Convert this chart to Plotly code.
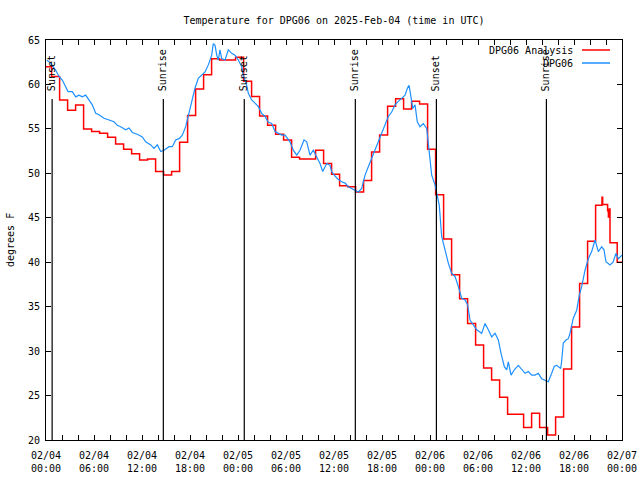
import pandas as pd
import plotly.graph_objects as go

# ---------------- data ----------------
T0 = pd.Timestamp("2025-02-04 00:00")
title_text = "Temperature for DPG06 on 2025-Feb-04 (time in UTC)"
y_title = "degrees F"

# Analysis (hourly, valid from hh:42), step plot
red_name = "DPG06 Analysis"
red_vals = [62.0, 60.9, 58.25, 57.1, 57.7, 55.0, 54.7, 54.5, 54.05, 53.3,
            52.7, 52.2, 51.5, 51.6, 50.2, 49.8, 50.2, 53.5, 56.5, 59.5,
            61.1, 62.9, 62.75, 62.75, 63.05, 60.35, 58.65, 56.45, 55.4, 54.4,
            53.75, 51.8, 51.6, 51.6, 52.6, 51.1, 49.9, 48.6, 48.5, 47.9,
            49.2, 52.4, 54.3, 57.55, 58.4, 57.25, 58.1, 57.8, 52.7, 47.6,
            42.6, 38.6, 35.9, 33.1, 30.7, 28.1, 26.75, 24.8, 22.9, 22.9,
            21.4, 23.0, 21.4, 20.55, 22.6, 28.0, 32.7, 37.6, 42.35, 46.4]
red_start = "2025-02-03 23:42"
red_tail_times = ["2025-02-06 21:30", "2025-02-06 21:35", "2025-02-06 22:12",
                  "2025-02-06 22:18", "2025-02-06 22:24", "2025-02-06 22:30",
                  "2025-02-06 23:24", "2025-02-07 00:24"]
red_tail_vals = [47.3, 46.5, 45.8, 45.1, 46.0, 42.2, 40.0, 40.0]

# Observations
blue_name = "DPG06"
blue_hours = [0.09, 0.59, 1.21, 1.63, 2.04, 2.46, 2.75, 3.29, 3.71, 4.13,
              4.54, 4.96, 5.38, 5.79, 6.21, 6.63, 7.25, 7.88, 8.5, 8.91,
              9.34, 9.96, 10.38, 10.79, 11.41, 12.04, 12.46, 13.09, 13.5, 13.91,
              14.34, 14.75, 15.38, 15.79, 16.21, 16.63, 17.04, 17.46, 17.88, 18.29,
              18.5, 18.63, 19.04, 19.46, 19.88, 20.29, 20.71, 20.91, 21.13, 21.34,
              21.54, 21.75, 21.96, 22.38, 22.79, 23.21, 23.63, 24.04, 24.46, 24.66,
              25.09, 25.29, 25.71, 26.13, 26.54, 26.96, 27.38, 27.79, 28.21, 28.63,
              29.04, 29.46, 29.88, 30.5, 30.91, 31.34, 31.75, 32.25, 32.59, 33.0,
              33.41, 33.84, 34.25, 34.59, 35.09, 35.5, 35.71, 36.13, 36.54, 36.96,
              37.38, 37.79, 38.21, 38.63, 39.04, 39.46, 39.88, 40.29, 40.71, 41.13,
              41.54, 41.96, 42.38, 42.79, 43.21, 43.63, 44.04, 44.46, 44.88, 45.16,
              45.38, 45.59, 45.84, 46.13, 46.41, 46.75, 47.16, 47.59, 47.79, 48.0,
              48.21, 48.63, 48.91, 49.16, 49.46, 49.88, 50.29, 50.71, 51.13, 51.54,
              51.96, 52.38, 52.71, 53.0, 53.41, 53.84, 54.46, 54.88, 55.29, 55.71,
              56.13, 56.54, 56.88, 57.29, 57.59, 57.79, 58.13, 58.54, 59.04, 59.46,
              59.88, 60.29, 60.71, 61.13, 61.54, 61.96, 62.38, 62.79, 63.21, 63.54,
              63.84, 64.34, 64.46, 64.66, 65.0, 65.29, 65.5, 65.91, 66.34, 66.66,
              66.96, 67.38, 67.79, 68.21, 68.63, 69.04, 69.46, 69.75, 70.0, 70.5,
              70.88, 71.25, 71.54, 71.84, 72.0]
blue_vals = [62.75, 62.4, 61.6, 60.9, 60.5, 59.75, 59.2, 59.2, 58.6, 58.8,
             58.6, 58.8, 58.25, 57.7, 56.75, 56.6, 56.2, 56.0, 55.8, 55.4,
             55.25, 54.9, 55.1, 54.6, 54.4, 54.1, 53.55, 53.2, 52.8, 53.2,
             52.45, 52.6, 53.0, 53.0, 53.75, 53.9, 54.3, 55.25, 56.75, 58.4,
             58.9, 59.6, 60.7, 61.05, 61.4, 62.2, 63.3, 64.6, 64.4, 63.3,
             62.75, 63.9, 62.9, 62.75, 63.9, 63.5, 63.3, 62.75, 62.0, 61.05,
             59.9, 59.0, 58.25, 57.9, 57.5, 56.75, 56.4, 55.75, 55.6, 54.7,
             54.5, 54.3, 54.3, 53.55, 52.6, 52.05, 52.6, 53.75, 53.55, 52.05,
             52.6, 51.9, 51.1, 50.2, 51.1, 50.9, 50.2, 49.7, 49.3, 49.05,
             48.9, 48.5, 48.3, 48.1, 47.9, 48.3, 49.8, 50.75, 51.7, 52.45,
             53.4, 54.5, 55.4, 56.4, 56.9, 57.7, 58.1, 58.4, 58.8, 59.55,
             59.9, 58.8, 57.3, 57.7, 55.8, 55.25, 55.6, 55.05, 53.55, 51.7,
             49.8, 48.7, 47.6, 46.4, 42.9, 41.4, 39.9, 38.75, 38.4, 37.25,
             35.95, 35.75, 35.2, 33.5, 32.9, 32.4, 32.0, 33.1, 32.4, 31.6,
             32.0, 31.25, 29.75, 28.25, 27.9, 28.8, 27.3, 27.9, 28.4, 27.9,
             27.5, 27.7, 27.3, 27.3, 27.5, 26.9, 26.75, 26.55, 27.5, 28.3,
             28.4, 28.05, 28.9, 30.9, 31.25, 31.4, 32.0, 33.7, 34.6, 36.3,
             37.25, 39.1, 40.4, 41.2, 42.5, 41.2, 41.75, 41.4, 40.05, 39.7,
             40.0, 41.0, 40.4, 40.6, 40.8]

# Sun events
sun_times = ["2025-02-04 00:46", "2025-02-04 14:40", "2025-02-05 00:47",
             "2025-02-05 14:40", "2025-02-06 00:48", "2025-02-06 14:33"]
sun_labels = ["Sunset", "Sunrise", "Sunset", "Sunrise", "Sunset", "Sunrise"]

# Axis ticks
x_tick_times = pd.date_range("2025-02-04 00:00", "2025-02-07 00:00", freq="6h")
x_tick_text = [f"{t:%m/%d}<br>{t:%H:%M}" for t in x_tick_times]
x_minor_times = pd.date_range("2025-02-04 00:00", "2025-02-07 00:00", freq="2h")
y_ticks = [20, 25, 30, 35, 40, 45, 50, 55, 60, 65]

# ---------------- figure ----------------
RED = "#ff0000"
BLUE = "#1e90ff"
FONT = "DejaVu Sans Mono, Liberation Mono, monospace"

red_x = list(pd.date_range(red_start, periods=len(red_vals), freq="h")) + \
    [pd.Timestamp(t) for t in red_tail_times]
red_y = red_vals + red_tail_vals
blue_x = [T0 + pd.to_timedelta(h, unit="h") for h in blue_hours]

fig = go.Figure()
fig.add_trace(go.Scatter(x=red_x, y=red_y, mode="lines", name=red_name,
                         line=dict(color=RED, width=1.5, shape="hv")))
fig.add_trace(go.Scatter(x=blue_x, y=blue_vals, mode="lines", name=blue_name,
                         line=dict(color=BLUE, width=1.2)))

L, R, Tm, B = 46, 18, 40, 40
W, H = 640, 480
pw, ph = W - L - R, H - Tm - B

def px_x(p):
    return (p - L) / pw

def px_y(p):
    return (H - B - p) / ph

shapes = []
annotations = []
for t, lab in zip(sun_times, sun_labels):
    shapes.append(dict(type="line", xref="x", yref="paper", x0=t, x1=t,
                       y0=0, y1=px_y(99), line=dict(color="black", width=1.2)))
    annotations.append(dict(x=t, xref="x", y=px_y(93), yref="paper",
                            text=lab, textangle=-90, showarrow=False,
                            xanchor="center", yanchor="bottom",
                            font=dict(family=FONT, size=10, color="black")))

# gnuplot-style key: text right-aligned, sample on the right
for name, color, py in [(red_name, RED, 50), (blue_name, BLUE, 63)]:
    annotations.append(dict(x=px_x(575), y=px_y(py), xref="paper", yref="paper",
                            text=name, showarrow=False, xanchor="right",
                            yanchor="middle",
                            font=dict(family=FONT, size=10, color="black")))
    shapes.append(dict(type="line", xref="paper", yref="paper",
                       x0=px_x(582), x1=px_x(610), y0=px_y(py), y1=px_y(py),
                       line=dict(color=color, width=1.5)))

annotations.append(dict(x=px_x(10), y=0.5, xref="paper", yref="paper",
                        text=y_title, textangle=-90, showarrow=False,
                        xanchor="center", yanchor="middle",
                        font=dict(family=FONT, size=10, color="black")))

fig.update_layout(
    width=W, height=H, autosize=False,
    margin=dict(l=L, r=R, t=Tm, b=B, pad=0, autoexpand=False),
    paper_bgcolor="white", plot_bgcolor="white",
    showlegend=False,
    title=dict(text=title_text, x=0.5, xref="paper", y=1 - 20 / H,
               yref="container", xanchor="center", yanchor="middle",
               font=dict(family=FONT, size=10, color="black")),
    shapes=shapes, annotations=annotations,
    font=dict(family=FONT, size=10, color="black"),
)
fig.update_xaxes(
    type="date", range=[T0, T0 + pd.Timedelta(hours=72)], automargin=False,
    showline=True, linecolor="black", linewidth=1, mirror="allticks",
    ticks="inside", ticklen=5, tickcolor="black", tickwidth=1,
    tickmode="array", tickvals=list(x_tick_times), ticktext=x_tick_text,
    minor=dict(tickmode="array", tickvals=list(x_minor_times), ticks="inside",
               ticklen=5, tickcolor="black", showgrid=False),
    showgrid=False, zeroline=False, ticklabelstandoff=6,
    tickfont=dict(family=FONT, size=10, color="black"),
)
fig.update_yaxes(
    range=[20, 65], tickmode="array", tickvals=y_ticks, automargin=False,
    showline=True, linecolor="black", linewidth=1, mirror="allticks",
    ticks="inside", ticklen=5, tickcolor="black", tickwidth=1,
    showgrid=False, zeroline=False, ticklabelstandoff=3,
    tickfont=dict(family=FONT, size=10, color="black"),
)

fig.write_html("out.html", config={"displayModeBar": False, "responsive": False})
with open("out.html", encoding="utf-8") as f:
    html = f.read()
html = html.replace("<head>", "<head><style>html,body{margin:0;padding:0;}</style>", 1)
with open("out.html", "w", encoding="utf-8") as f:
    f.write(html)
